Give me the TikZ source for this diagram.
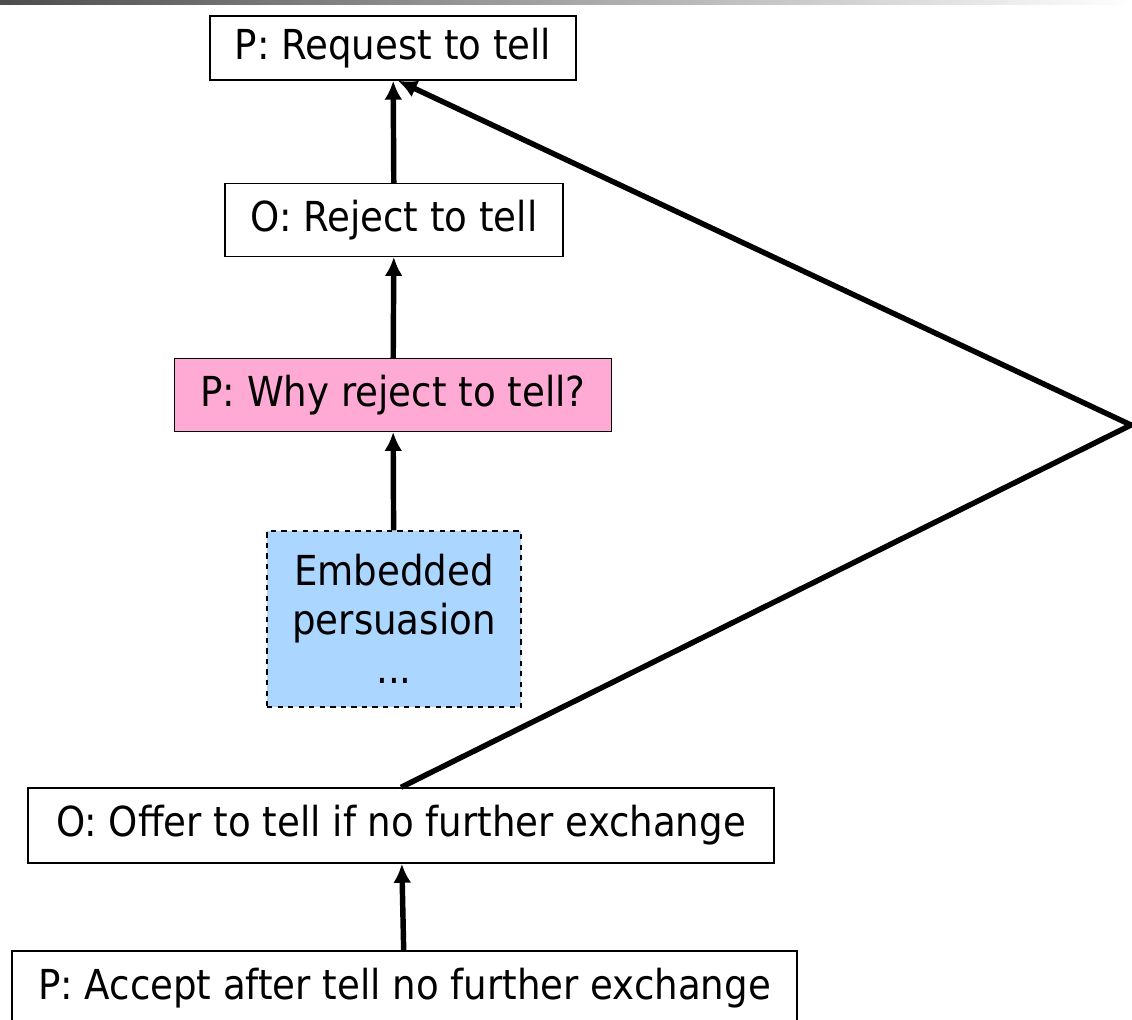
\documentclass[tikz,border=0pt]{standalone}
\usepackage{fontspec}
\setmainfont{DejaVu Sans Condensed}
\usetikzlibrary{arrows.meta}
\definecolor{whypink}{RGB}{255,170,212}
\definecolor{embblue}{RGB}{170,214,255}

\begin{document}
\begin{tikzpicture}
\tikzset{
  box/.style={draw, line width=0.8pt, fill=white, minimum height=1.45cm, inner sep=0pt,
    font=\fontsize{23.5}{28}\selectfont},
  link/.style={line width=3.1pt, -{Latex[length=0.38cm, width=0.36cm]}}
}
\useasboundingbox (0, 0) rectangle (22.64, -20.38);
% header rule
\shade[left color=black!70, right color=white] (0, 0) rectangle (22.64, -0.09);

\node[box, minimum width=7.32cm, minimum height=1.28cm] (req) at (7.86, -0.96) {P: Request to tell};
\node[box, minimum width=6.76cm] (rej) at (7.88, -4.40) {O: Reject to tell};
\node[box, fill=whypink, minimum width=8.74cm] (why) at (7.86, -7.90) {P: Why reject to tell?};
\node[box, fill=embblue, dashed, align=center, minimum width=5.08cm, minimum height=3.52cm] (emb) at (7.88, -12.38) {Embedded\\persuasion\\...};
\node[box, minimum width=14.92cm, minimum height=1.5cm] (offer) at (8.02, -16.51) {O: Offer to tell if no further exchange};
\node[box, minimum width=15.7cm, minimum height=1.48cm] (acc) at (8.09, -19.76) {P: Accept after tell no further exchange};
\coordinate (turn) at (22.62, -8.5);

\draw[link] (rej) -- (req);
\draw[link] (why) -- (rej);
\draw[link] (emb) -- (why);
\draw[link] (acc) -- (offer);
\draw[link] (offer.north) -- (turn) -- ([xshift=0.1cm]req.south);
\end{tikzpicture}
\end{document}
